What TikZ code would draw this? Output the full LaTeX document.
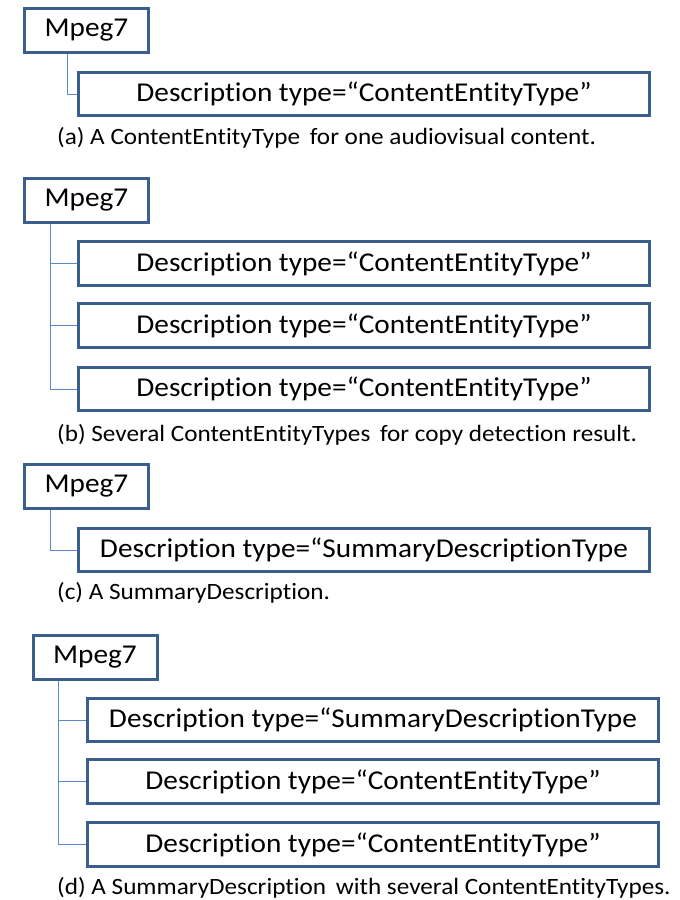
\documentclass[tikz,border=0pt]{standalone}
\usepackage{fontspec}
\setmainfont{Carlito}[FakeStretch=1.077,RawFeature=-liga]
\definecolor{boxline}{HTML}{3A5F8F}
\definecolor{linkline}{HTML}{5B8BCB}
\begin{document}
\begin{tikzpicture}[x=1pt,y=-1pt,
  rootbox/.style={draw=boxline,line width=3pt,fill=white,inner sep=0pt,
    minimum width=124pt,minimum height=44pt,font=\fontsize{27.2}{32}\selectfont},
  descbox/.style={draw=boxline,line width=3pt,fill=white,inner sep=0pt,
    minimum width=571pt,minimum height=43.4pt,font=\fontsize{27.2}{32}\selectfont},
  caption/.style={anchor=west,inner sep=0pt,font=\fontsize{23.4}{27}\selectfont},
  link/.style={draw=linkline,line width=1pt}]
\useasboundingbox (0,0) rectangle (680,900);

% (a) one content entity
\node[rootbox] (ma) at (86.5,30) {Mpeg7};
\node[descbox] (da) at (364,94) {Description type=“ContentEntityType”};
\coordinate (ta) at ([xshift=44pt]ma.south west);
\draw[link] (ta) |- (da.west);
\node[caption] (capa) at (57,138) {(a) A ContentEntityType\hspace{4pt} for one audiovisual content.};

% (b) several content entities
\node[rootbox] (mb) at (86.5,200.5) {Mpeg7};
\node[descbox] (db1) at (364,263.5) {Description type=“ContentEntityType”};
\node[descbox] (db2) at (364,325.5) {Description type=“ContentEntityType”};
\node[descbox] (db3) at (364,389) {Description type=“ContentEntityType”};
\coordinate (tb) at ([xshift=27pt]mb.south west);
\draw[link] (tb) |- (db1.west);
\draw[link] (tb) |- (db2.west);
\draw[link] (tb) |- (db3.west);
\node[caption] (capb) at (57,435) {(b) Several ContentEntityTypes\hspace{4pt} for copy detection result.};

% (c) summary description
\node[rootbox] (mc) at (86.5,486) {Mpeg7};
\node[descbox] (dc) at (364,550) {Description type=“SummaryDescriptionType};
\coordinate (tc) at ([xshift=27pt]mc.south west);
\draw[link] (tc) |- (dc.west);
\node[caption] (capc) at (57,593) {(c) A SummaryDescription.};

% (d) summary description with content entities
\node[rootbox] (md) at (95,657) {Mpeg7};
\node[descbox] (dd1) at (373,720) {Description type=“SummaryDescriptionType};
\node[descbox] (dd2) at (373,781.5) {Description type=“ContentEntityType”};
\node[descbox] (dd3) at (373,844.5) {Description type=“ContentEntityType”};
\coordinate (td) at ([xshift=27pt]md.south west);
\draw[link] (td) |- (dd1.west);
\draw[link] (td) |- (dd2.west);
\draw[link] (td) |- (dd3.west);
\node[caption] (capd) at (57,888) {(d) A SummaryDescription\hspace{4pt} with several ContentEntityTypes.};
\end{tikzpicture}
\end{document}
